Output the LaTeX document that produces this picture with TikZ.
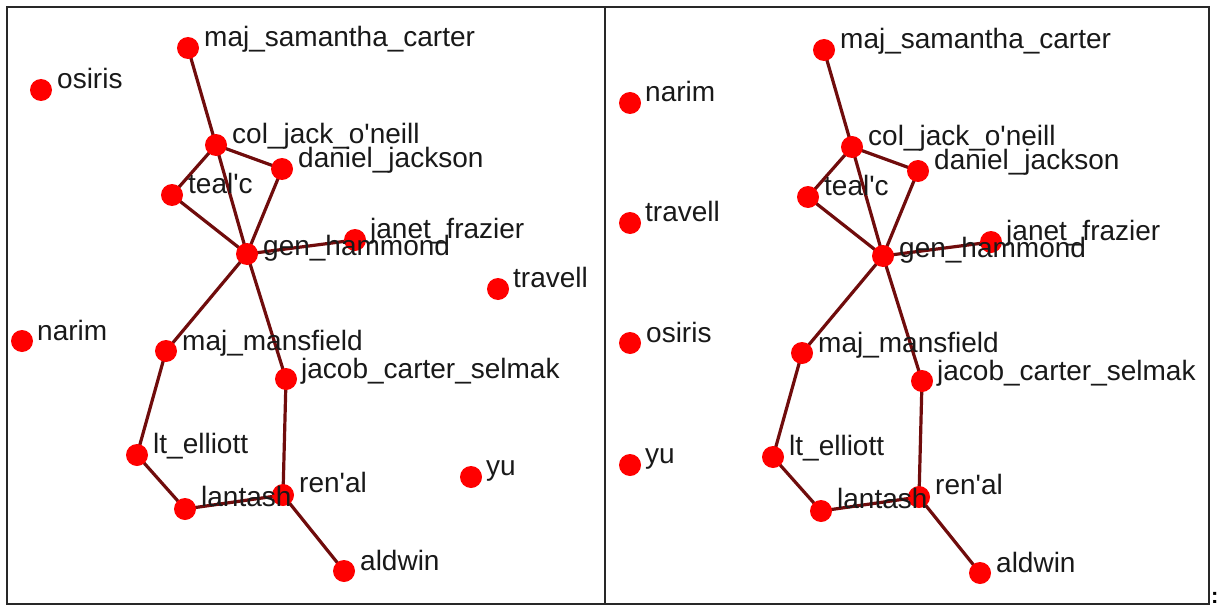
\documentclass[tikz,border=0pt]{standalone}
\usepackage{fontspec}
\setmainfont{Liberation Sans}
\usetikzlibrary{backgrounds}
\definecolor{edgecol}{RGB}{112,12,12}
\definecolor{vtxred}{RGB}{255,0,0}
\definecolor{framecol}{RGB}{40,40,40}
\tikzset{
  vtx/.style={circle, fill=vtxred, inner sep=0pt, minimum size=22pt},
  lbl/.style={anchor=base west, inner sep=0pt, font=\fontsize{28}{30}\selectfont, text=black!90},
  tie/.style={draw=edgecol, line width=3.2pt},
  panel/.style={draw=framecol, line width=2pt}
}
\newcommand{\q}{\textquotesingle}
\begin{document}
\begin{tikzpicture}[x=1pt,y=-1pt]
\useasboundingbox (0,0) rectangle (1225,607);
% panels
\node[panel, inner sep=0pt, minimum width=598pt, minimum height=597pt, anchor=north west] (lp) at (6,6) {};
\node[panel, inner sep=0pt, minimum width=604pt, minimum height=597pt, anchor=north west] (rp) at (604,6) {};
% ---------- left panel vertices ----------
\node[vtx] (a-msc) at (188,48) {};
\node[vtx] (a-osi) at (41,90) {};
\node[vtx] (a-cjo) at (216,145) {};
\node[vtx] (a-dj) at (282,169) {};
\node[vtx] (a-tc) at (172,195) {};
\node[vtx] (a-gh) at (247,254) {};
\node[vtx] (a-jf) at (355,240) {};
\node[vtx] (a-tra) at (498,289) {};
\node[vtx] (a-nar) at (22,341) {};
\node[vtx] (a-mm) at (166,351) {};
\node[vtx] (a-jcs) at (286,379) {};
\node[vtx] (a-le) at (137,455) {};
\node[vtx] (a-yu) at (471,477) {};
\node[vtx] (a-ren) at (283,495) {};
\node[vtx] (a-lan) at (185,509) {};
\node[vtx] (a-ald) at (344,571) {};
% ---------- right panel vertices ----------
\node[vtx] (b-msc) at (824,50) {};
\node[vtx] (b-nar) at (630,103) {};
\node[vtx] (b-cjo) at (852,147) {};
\node[vtx] (b-dj) at (918,171) {};
\node[vtx] (b-tc) at (808,197) {};
\node[vtx] (b-tra) at (630,223) {};
\node[vtx] (b-gh) at (883,256) {};
\node[vtx] (b-jf) at (991,242) {};
\node[vtx] (b-osi) at (630,343) {};
\node[vtx] (b-mm) at (802,353) {};
\node[vtx] (b-jcs) at (922,381) {};
\node[vtx] (b-le) at (773,457) {};
\node[vtx] (b-yu) at (630,465) {};
\node[vtx] (b-ren) at (919,497) {};
\node[vtx] (b-lan) at (821,511) {};
\node[vtx] (b-ald) at (980,573) {};
% ---------- edges ----------
\begin{scope}[on background layer]
\fill[white] (0,0) rectangle (1225,607);
\foreach \p in {a,b}{
  \draw[tie] (\p-msc.center) -- (\p-cjo.center);
  \draw[tie] (\p-cjo.center) -- (\p-dj.center);
  \draw[tie] (\p-cjo.center) -- (\p-tc.center);
  \draw[tie] (\p-cjo.center) -- (\p-gh.center);
  \draw[tie] (\p-tc.center) -- (\p-gh.center);
  \draw[tie] (\p-dj.center) -- (\p-gh.center);
  \draw[tie] (\p-gh.center) -- (\p-jf.center);
  \draw[tie] (\p-gh.center) -- (\p-mm.center);
  \draw[tie] (\p-gh.center) -- (\p-jcs.center);
  \draw[tie] (\p-mm.center) -- (\p-le.center);
  \draw[tie] (\p-le.center) -- (\p-lan.center);
  \draw[tie] (\p-lan.center) -- (\p-ren.center);
  \draw[tie] (\p-jcs.center) -- (\p-ren.center);
  \draw[tie] (\p-ren.center) -- (\p-ald.center);
}
\end{scope}
% ---------- labels ----------
\foreach \p in {a,b}{
  \node[lbl] at ([xshift=16pt,yshift=1pt]\p-msc.center) {maj\_samantha\_carter};
  \node[lbl] at ([xshift=16pt,yshift=1pt]\p-osi.center) {osiris};
  \node[lbl] at ([xshift=16pt,yshift=1.5pt]\p-cjo.center) {col\_jack\_o\q neill};
  \node[lbl] at ([xshift=16pt,yshift=2pt]\p-dj.center) {daniel\_jackson};
  \node[lbl] at ([xshift=16pt,yshift=1.5pt]\p-tc.center) {teal\q c};
  \node[lbl] at ([xshift=16pt,yshift=-1pt]\p-gh.center) {gen\_hammond};
  \node[lbl] at ([xshift=15pt,yshift=2pt]\p-jf.center) {janet\_frazier};
  \node[lbl] at ([xshift=15pt,yshift=2pt]\p-tra.center) {travell};
  \node[lbl] at ([xshift=15pt,yshift=1pt]\p-nar.center) {narim};
  \node[lbl] at ([xshift=16pt,yshift=1pt]\p-mm.center) {maj\_mansfield};
  \node[lbl] at ([xshift=15pt,yshift=1pt]\p-jcs.center) {jacob\_carter\_selmak};
  \node[lbl] at ([xshift=16pt,yshift=2pt]\p-le.center) {lt\_elliott};
  \node[lbl] at ([xshift=15pt,yshift=2pt]\p-yu.center) {yu};
  \node[lbl] at ([xshift=16pt,yshift=3pt]\p-ren.center) {ren\q al};
  \node[lbl] at ([xshift=16pt,yshift=3pt]\p-lan.center) {lantash};
  \node[lbl] at ([xshift=16pt,yshift=1pt]\p-ald.center) {aldwin};
}
\node[anchor=base west, inner sep=0pt, font=\bfseries\fontsize{22}{24}\selectfont] (colon) at (1211,603) {:};
\end{tikzpicture}
\end{document}
